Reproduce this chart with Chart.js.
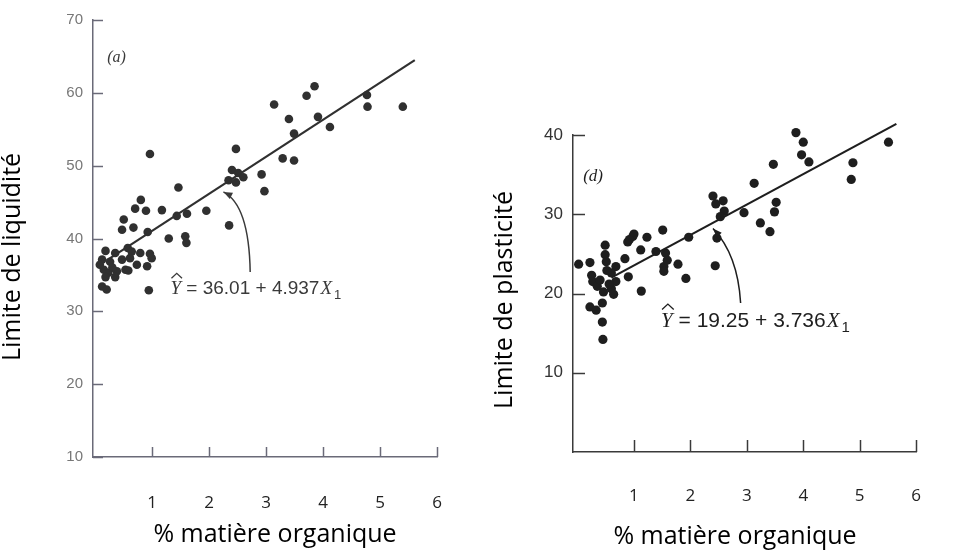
<!DOCTYPE html>
<html lang="fr">
<head>
    <meta charset="UTF-8">
    <script src="https://cdn.jsdelivr.net/npm/chart.js@4.4.0/dist/chart.umd.min.js"></script>
    <title>Limites d'Atterberg</title>
    <style>
        body{margin:0; background:#fff; width:955px; height:554px; overflow:hidden;}
        .box{position:absolute; top:0;}
    </style>
    <script>
        // (a) limite de liquidité
        const liqX = [0.96,1.46,2.47,3.14,3.85,3.71,3.40,3.91,3.49,4.12,4.77,4.78,5.40,3.29,3.49,2.92,2.97,
            2.40,2.51,2.60,2.34,2.47,1.95,1.17,0.89,0.70,0.80,1.43,1.61,2.35,0.50,0.47,0.67,0.92,1.29,1.58,1.60,
            0.18,0.35,0.57,0.64,0.79,0.96,0.12,0.26,0.47,0.61,0.99,0.15,0.23,0.38,0.53,0.73,0.91,0.18,0.35,0.58,
            0.12,0.20,0.94,0.08,0.30]
        const liqY = [51.6,47.0,52.3,58.4,60.9,59.6,56.4,56.7,54.4,55.3,59.7,58.1,58.1,51.0,50.7,48.8,46.5,
            49.4,49.0,48.4,48.0,47.7,43.8,43.9,43.8,44.1,45.3,43.1,43.4,41.8,42.6,41.2,41.5,40.9,40.0,40.3,39.4,
            38.3,38.0,38.7,38.2,38.0,37.9,37.1,36.8,37.1,37.3,37.3,35.7,35.3,35.5,35.7,36.4,36.2,34.7,34.7,35.6,
            33.4,33.0,32.9,36.4,36.0]
        const liqLineX = [0.2, 5.61]
        const liqLineY = [37.0, 64.5]
        const liqTicks = [10,20,30,40,50,60,70]

        // (d) limite de plasticite
        const plaX = [3.87,4.00,3.97,4.10,3.47,3.13,4.88,4.85,5.51,2.40,2.45,2.58,2.60,2.53,2.95,3.52,3.49,
            3.24,3.41,2.47,2.44,1.97,1.51,1.78,1.92,1.56,1.53,1.59,0.02,0.22,0.49,0.49,0.51,0.25,0.27,0.35,0.46,
            0.60,0.68,0.68,0.60,0.84,0.90,0.89,0.98,1.12,1.23,1.39,1.53,1.13,0.22,0.33,0.44,0.45,0.44,1.00,0.92,
            0.52,0.40,0.56,0.64]
        const plaY = [40.3,39.1,37.5,36.6,36.3,33.9,36.5,34.4,39.1,32.3,31.3,31.7,30.4,29.7,30.2,31.5,30.3,
            28.9,27.8,27.0,23.5,27.1,28.0,23.7,21.9,25.1,23.4,24.2,23.7,23.9,26.1,24.9,24.0,22.3,21.5,20.9,20.2,
            20.6,21.5,23.4,22.6,24.4,22.1,26.5,27.2,25.5,27.1,25.3,22.8,20.3,18.3,17.9,16.4,14.2,18.8,27.5,26.8,
            22.9,21.7,21.2,19.9]
        const plaLineX = [0.6, 5.65]
        const plaLineY = [22.0, 41.4]
        const plaTicks = [10,20,30,40]

        const xTicks = [1,2,3,4,5,6]
        const xTitle = '% matière organique'

        function pts(xs, ys){
            return xs.map((x,i) => ({x:x, y:ys[i]}))
        }

        // ticks drawn inward, titles, equation and arrow
        const decor = {
            id:'decor',
            afterDraw(chart){
                const o = chart.options.plugins.decor
                const ctx = chart.ctx
                const sx = chart.scales.x, sy = chart.scales.y
                const a = chart.chartArea
                ctx.save()
                ctx.strokeStyle = o.axisColor
                ctx.lineWidth = 1.5
                sy.ticks.forEach(t => {
                    const py = Math.round(sy.getPixelForValue(t.value)) + 0.5
                    ctx.beginPath(); ctx.moveTo(a.left, py); ctx.lineTo(a.left + o.tick, py); ctx.stroke()
                })
                sx.ticks.forEach(t => {
                    const px = Math.round(sx.getPixelForValue(t.value)) + 0.5
                    ctx.beginPath(); ctx.moveTo(px, a.bottom); ctx.lineTo(px, a.bottom - o.tick); ctx.stroke()
                })

                // axis titles
                ctx.fillStyle = '#000'
                ctx.font = '25px "Open Sans"'
                ctx.textAlign = 'center'
                ctx.textBaseline = 'middle'
                ctx.fillText(xTitle, o.xTitlePos[0], o.xTitlePos[1])
                ctx.save()
                ctx.translate(o.yTitlePos[0], o.yTitlePos[1])
                ctx.rotate(-Math.PI/2)
                ctx.fillText(o.yTitle, 0, 0)
                ctx.restore()

                // panel letter
                ctx.fillStyle = o.textColor
                ctx.font = 'italic ' + o.letterSize + 'px "Liberation Serif"'
                ctx.textAlign = 'left'
                ctx.textBaseline = 'alphabetic'
                ctx.fillText(o.letter, sx.getPixelForValue(o.letterAt[0]), sy.getPixelForValue(o.letterAt[1]))

                // arrow
                const p0 = [sx.getPixelForValue(o.arrow[0][0]), sy.getPixelForValue(o.arrow[0][1])]
                const p1 = [sx.getPixelForValue(o.arrow[1][0]), sy.getPixelForValue(o.arrow[1][1])]
                const p2 = [sx.getPixelForValue(o.arrow[2][0]), sy.getPixelForValue(o.arrow[2][1])]
                ctx.strokeStyle = o.textColor
                ctx.lineWidth = 1.5
                ctx.beginPath(); ctx.moveTo(p0[0], p0[1]); ctx.quadraticCurveTo(p1[0], p1[1], p2[0], p2[1]); ctx.stroke()
                const ang = Math.atan2(p2[1]-p1[1], p2[0]-p1[0])
                ctx.fillStyle = o.textColor
                ctx.beginPath()
                ctx.moveTo(p2[0], p2[1])
                ctx.lineTo(p2[0] - 9*Math.cos(ang) + 3.5*Math.sin(ang), p2[1] - 9*Math.sin(ang) - 3.5*Math.cos(ang))
                ctx.lineTo(p2[0] - 9*Math.cos(ang) - 3.5*Math.sin(ang), p2[1] - 9*Math.sin(ang) + 3.5*Math.cos(ang))
                ctx.closePath(); ctx.fill()

                // equation
                let x = sx.getPixelForValue(o.eqAt[0])
                const y = sy.getPixelForValue(o.eqAt[1])
                const s = o.eqSize
                ctx.font = 'italic ' + s + 'px "Liberation Serif"'
                ctx.fillText('Y', x, y)
                const wY = ctx.measureText('Y').width
                ctx.lineWidth = 1.3
                ctx.beginPath()
                ctx.moveTo(x + 1, y - s*0.82); ctx.lineTo(x + wY/2 + 1, y - s*1.08); ctx.lineTo(x + wY + 1, y - s*0.82)
                ctx.stroke()
                x += wY
                ctx.font = s + 'px "Liberation Sans"'
                ctx.fillText(o.eqText, x, y)
                x += ctx.measureText(o.eqText).width + 1
                ctx.font = 'italic ' + s + 'px "Liberation Serif"'
                ctx.fillText('X', x, y)
                x += ctx.measureText('X').width + 2
                ctx.font = Math.round(s*0.7) + 'px "Liberation Sans"'
                ctx.fillText('1', x, y + s*0.25)
                ctx.restore()
            }
        }

        function makeChart(id, cfg){
            const ctx = document.getElementById(id).getContext('2d')
            return new Chart(ctx, {
                type:'scatter',
                data:{
                    datasets:[{
                        data: pts(cfg.xs, cfg.ys),
                        pointRadius: cfg.r,
                        pointBackgroundColor: cfg.dot,
                        pointBorderWidth: 0,
                        clip: false
                    },{
                        data: pts(cfg.lineX, cfg.lineY),
                        showLine: true,
                        pointRadius: 0,
                        borderColor: cfg.dot,
                        borderWidth: 2.2,
                        clip: false
                    }]
                },
                options:{
                    responsive:false,
                    animation:false,
                    events:[],
                    layout:{padding:cfg.pad},
                    scales:{
                        x:{
                            type:'linear', min:cfg.xMin, max:6,
                            grid:{display:false, drawTicks:false},
                            border:{color:cfg.axis, width:1.5},
                            afterBuildTicks: s => { s.ticks = xTicks.map(v => ({value:v})) },
                            afterFit: s => { s.height = cfg.xh },
                            ticks:{color:'#222', font:{family:'Open Sans', size:17}, padding:cfg.xPad}
                        },
                        y:{
                            type:'linear', min:cfg.yMin, max:cfg.yMax,
                            grid:{display:false, drawTicks:false},
                            border:{color:cfg.axis, width:1.5},
                            afterBuildTicks: s => { s.ticks = cfg.yTicks.map(v => ({value:v})) },
                            afterFit: s => { s.width = 93 },
                            ticks:{color:cfg.yLab, font:{family:'Liberation Sans', size:cfg.yLabSize}, padding:10}
                        }
                    },
                    plugins:{
                        legend:{display:false},
                        tooltip:{enabled:false},
                        decor: cfg.decor
                    }
                },
                plugins:[decor]
            })
        }

        window.onload = function(){
            makeChart('liq', {
                xs:liqX, ys:liqY, lineX:liqLineX, lineY:liqLineY, yTicks:liqTicks,
                r:4.3, dot:'#303030', axis:'#6a6a78', yLab:'#777', yLabSize:15,
                pad:{left:0, top:20, right:43, bottom:0}, xMin:-0.04, yMin:10, yMax:70, xh:97, xPad:36,
                decor:{
                    axisColor:'#6a6a78', tick:10, textColor:'#3a3a3a',
                    xTitlePos:[275,535], yTitlePos:[13,257], yTitle:'Limite de liquidité',
                    letter:'(a)', letterAt:[0.21,64.3], letterSize:16,
                    arrow:[[2.72,35.4],[2.70,44.6],[2.25,46.4]],
                    eqAt:[1.32,32.4], eqSize:19, eqText:' = 36.01 + 4.937'
                }
            })
            makeChart('pla', {
                xs:plaX, ys:plaY, lineX:plaLineX, lineY:plaLineY, yTicks:plaTicks,
                r:4.6, dot:'#1e1e1e', axis:'#3a3a3a', yLab:'#333', yLabSize:17,
                pad:{left:0, top:135, right:5, bottom:0}, xMin:-0.08, yMin:0, yMax:40, xh:102, xPad:34,
                decor:{
                    axisColor:'#3a3a3a', tick:12, textColor:'#1e1e1e',
                    xTitlePos:[255,537], yTitlePos:[25,300], yTitle:'Limite de plasticité',
                    letter:'(d)', letterAt:[0.1,34.2], letterSize:17,
                    arrow:[[2.89,18.8],[2.84,24.9],[2.40,28.2]],
                    eqAt:[1.48,15.8], eqSize:21, eqText:' = 19.25 + 3.736'
                }
            })
        }
    </script>
</head>
<body>
    <div class="box" style="left:0px;"><canvas id="liq" width="480" height="554"></canvas></div>
    <div class="box" style="left:480px;"><canvas id="pla" width="475" height="554"></canvas></div>
</body>
</html>
